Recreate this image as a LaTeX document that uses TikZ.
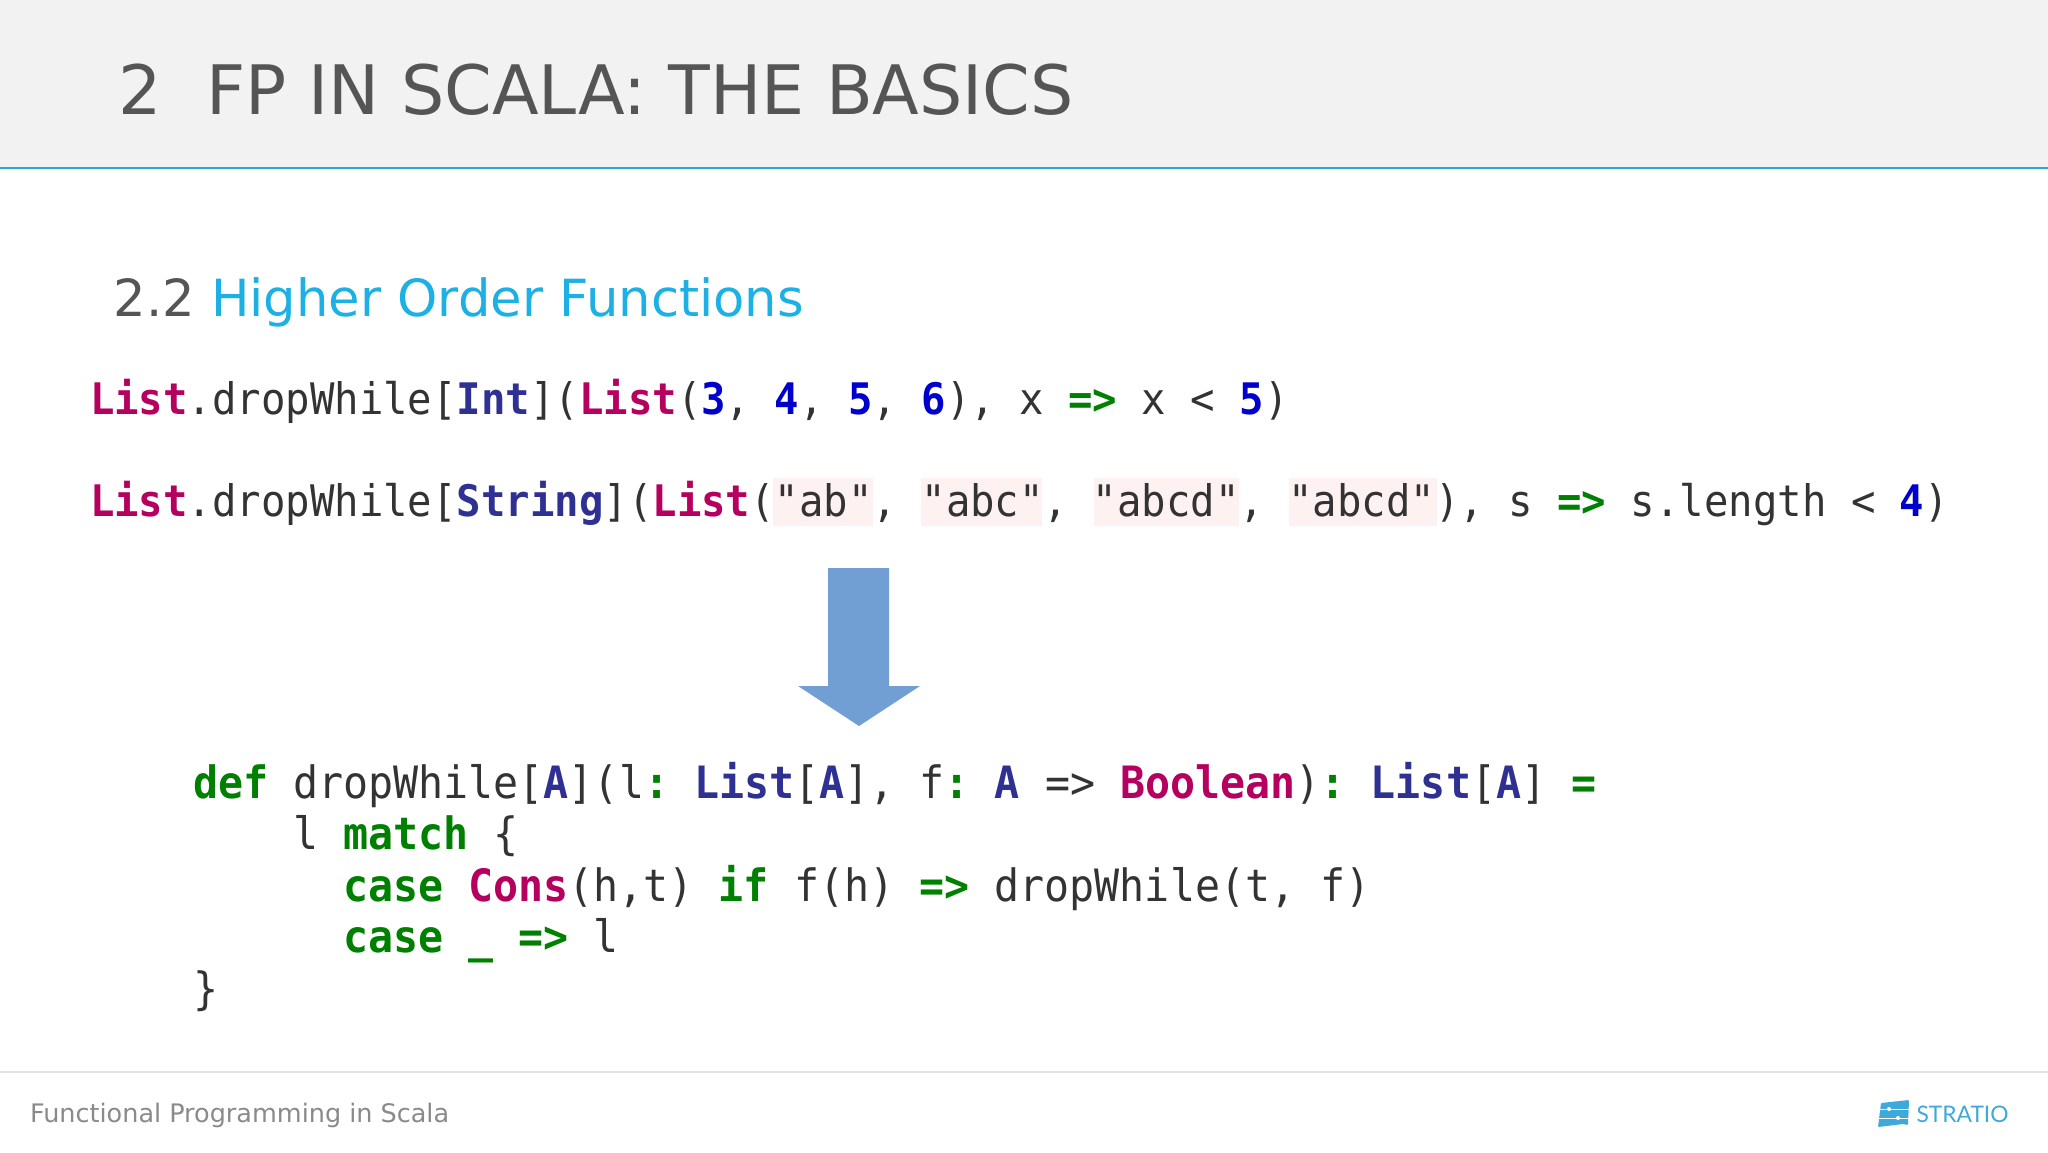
\documentclass[tikz,border=0pt]{standalone}
\usepackage{fontspec}
\setmainfont{DejaVu Sans}
\setmonofont[FakeStretch=0.935]{DejaVu Sans Mono}
\newfontfamily\logofont{Lato}
\definecolor{headbg}{HTML}{F2F2F2}
\definecolor{headline}{HTML}{2AA9D2}
\definecolor{titlegrey}{HTML}{555555}
\definecolor{secblue}{HTML}{1CB0E4}
\definecolor{footgrey}{HTML}{8A8A8A}
\definecolor{footline}{HTML}{E2E2E2}
\definecolor{codefg}{HTML}{333333}
\definecolor{kwmag}{HTML}{B5005F}
\definecolor{kwnavy}{HTML}{2E3192}
\definecolor{kwnum}{HTML}{0000CC}
\definecolor{kwgreen}{HTML}{008000}
\definecolor{strbg}{HTML}{FEF1F1}
\definecolor{arrowblue}{HTML}{729FD3}
\definecolor{logoblue}{HTML}{3FA9D9}
\newcommand{\Mg}[1]{{\bfseries\color{kwmag}#1}}
\newcommand{\Nv}[1]{{\bfseries\color{kwnavy}#1}}
\newcommand{\Nm}[1]{{\bfseries\color{kwnum}#1}}
\newcommand{\Gr}[1]{{\bfseries\color{kwgreen}#1}}
\tikzset{
  txt/.style={anchor=base west,inner sep=0pt,outer sep=0pt},
  codeA/.style={txt,text=codefg,font=\ttfamily\fontsize{43.45}{48}\selectfont},
  codeB/.style={txt,text=codefg,font=\ttfamily\fontsize{44.52}{48}\selectfont},
}
\begin{document}
\begin{tikzpicture}[x=1pt,y=-1pt]
\useasboundingbox (0,0) rectangle (2048,1152);
\fill[white] (0,0) rectangle (2048,1152);
\fill[headbg] (0,0) rectangle (2048,168);
\draw[headline,line width=1.6pt] (0,168) -- (2048,168);
\node[txt,text=titlegrey,font=\fontsize{68.2}{72}\selectfont] (title) at (118,114) {2\hspace{0.66em}FP IN SCALA: THE BASICS};
\node[txt,font=\fontsize{51.2}{56}\selectfont] (section) at (113.5,316.5) {\textcolor{titlegrey}{2.2} \textcolor{secblue}{Higher Order Functions}};
\fill[strbg] (773,478) rectangle (873,526);
\fill[strbg] (921,478) rectangle (1042,526);
\fill[strbg] (1094,478) rectangle (1239,526);
\fill[strbg] (1289,478) rectangle (1437,526);
\node[codeA] (l1) at (90,414) {\Mg{List}.dropWhile[\Nv{Int}](\Mg{List}(\Nm{3}, \Nm{4}, \Nm{5}, \Nm{6}), x \Gr{=>} x < \Nm{5})};
\node[codeA] (l2) at (90,516) {\Mg{List}.dropWhile[\Nv{String}](\Mg{List}("ab", "abc", "abcd", "abcd"), s \Gr{=>} s.length < \Nm{4})};
\fill[arrowblue] (828,568) -- (889,568) -- (889,686) -- (920,686) -- (859,726) -- (798,686) -- (828,686) -- cycle;
\node[codeB] (d1) at (193,798) {\Gr{def} dropWhile[\Nv{A}](l\Gr{:} \Nv{List}[\Nv{A}], f\Gr{:} \Nv{A} => \Mg{Boolean})\Gr{:} \Nv{List}[\Nv{A}] \Gr{=}};
\node[codeB] (d2) at (293,849) {l \Gr{match} \{};
\node[codeB] (d3) at (343,901) {\Gr{case} \Mg{Cons}(h,t) \Gr{if} f(h) \Gr{=>} dropWhile(t, f)};
\node[codeB] (d4) at (343,952) {\Gr{case} \Gr{\_} \Gr{=>} l};
\node[codeB] (d5) at (193,1004) {\}};
\draw[footline,line width=1.4pt] (0,1072) -- (2048,1072);
\node[txt,text=footgrey,font=\fontsize{25.5}{32}\selectfont] (foot) at (30,1122) {Functional Programming in Scala};
\fill[logoblue,rounded corners=1pt] (1881,1103) -- (1909,1100) -- (1908,1125) -- (1903,1124) -- (1878,1127) -- cycle;
\draw[white,line width=1pt] (1880,1109) -- (1910,1109) (1877,1118) -- (1910,1118);
\fill[white] (1889,1109) circle (2) (1898,1118) circle (2);
\node[txt,text=logoblue,font=\logofont\fontsize{22.8}{30}\selectfont] (logo) at (1916.5,1122) {STRATIO};
\end{tikzpicture}
\end{document}
